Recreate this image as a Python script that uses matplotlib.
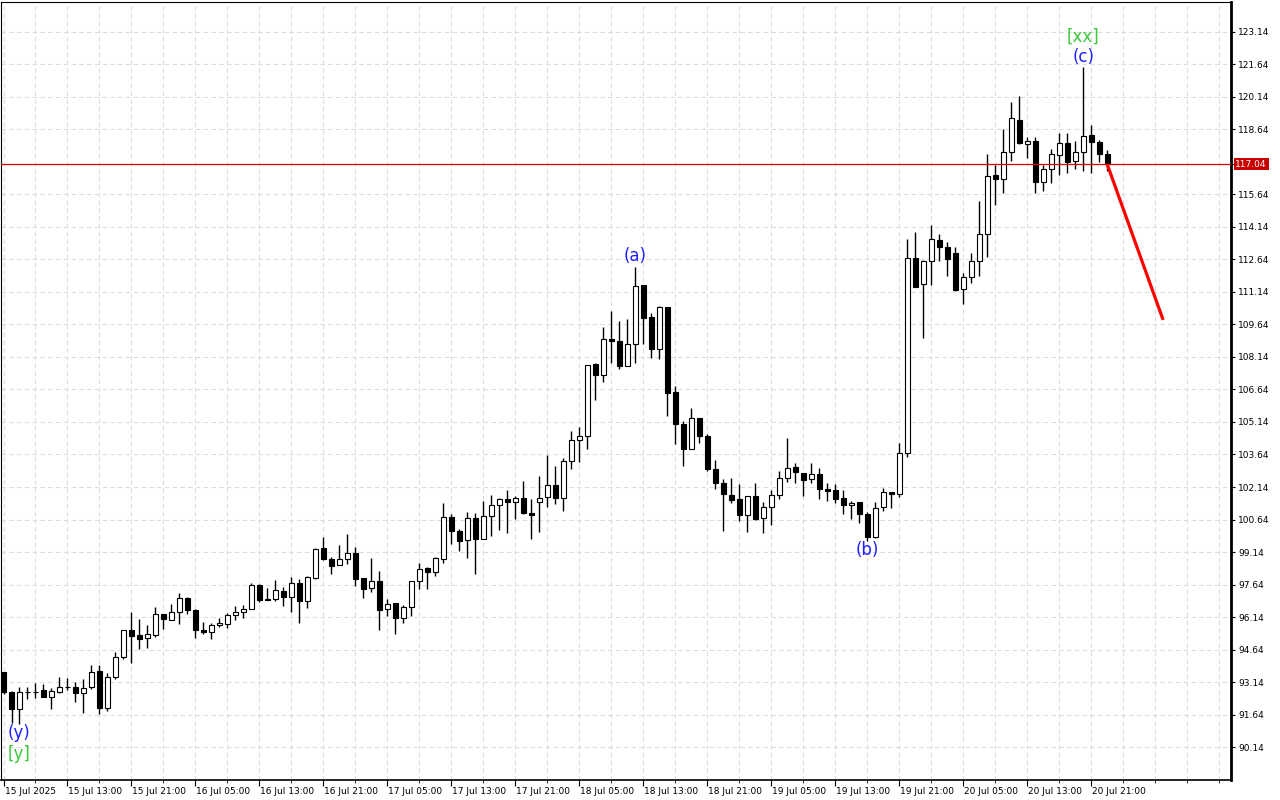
import numpy as np
import matplotlib
matplotlib.use('Agg')
import matplotlib.pyplot as plt
import matplotlib.transforms as mtransforms

# hourly bars, 15 Jul 2025 05:00 .. 20 Jul 2025 23:00
opens = [93.59, 92.67, 91.88, 92.67, 92.70, 92.77, 92.44, 92.67, 92.90, 92.90,
         92.62, 92.90, 93.65, 91.96, 93.36, 94.31, 95.54, 95.31, 95.16, 95.30,
         96.27, 95.99, 96.36, 97.01, 96.45, 95.53, 95.47, 95.76, 95.83, 96.22,
         96.38, 96.50, 97.61, 96.97, 96.96, 97.33, 97.05, 97.70, 96.87, 97.93,
         99.31, 98.82, 98.53, 98.80, 99.08, 97.93, 97.47, 97.79, 96.50, 96.78,
         96.08, 96.59, 97.79, 98.39, 98.20, 98.83, 100.74, 100.10, 99.68, 100.70,
         99.76, 100.79, 101.30, 101.58, 101.46, 101.62, 100.93, 101.44, 101.67, 102.22,
         101.62, 103.33, 104.30, 104.48, 107.82, 107.32, 108.97, 108.87, 107.74, 108.76,
         111.46, 109.97, 108.53, 110.43, 106.52, 105.05, 103.91, 105.31, 104.48, 102.96,
         102.31, 101.77, 101.58, 100.86, 101.71, 100.70, 101.21, 101.76, 102.54, 103.05,
         102.77, 102.50, 102.74, 102.04, 101.99, 101.62, 101.30, 101.44, 100.88, 99.85,
         101.21, 101.90, 101.81, 103.70, 112.70, 111.50, 112.56, 113.53, 113.20, 112.93,
         111.29, 111.82, 112.56, 113.80, 116.54, 116.34, 117.59, 119.07, 117.96, 118.10,
         116.20, 116.80, 117.45, 118.00, 117.17, 117.59, 118.37, 118.05, 117.50]
highs = [93.62, 92.73, 92.93, 92.93, 93.08, 93.05, 92.88, 93.39, 93.31, 93.13,
         93.28, 93.91, 93.91, 93.54, 94.53, 95.54, 96.36, 96.05, 95.77, 96.60,
         96.30, 96.73, 97.24, 97.05, 96.50, 95.89, 95.85, 96.08, 96.31, 96.64,
         96.68, 97.70, 97.65, 97.47, 97.85, 97.52, 98.00, 97.88, 98.03, 99.31,
         99.83, 98.90, 99.45, 99.96, 99.36, 97.95, 98.85, 98.25, 96.96, 96.80,
         96.70, 97.80, 98.62, 98.45, 98.90, 101.40, 100.90, 100.19, 100.97, 100.94,
         101.50, 101.77, 101.65, 102.00, 101.71, 102.42, 101.58, 102.65, 103.62, 103.11,
         103.47, 104.71, 104.90, 107.76, 107.85, 109.51, 110.26, 109.82, 109.89, 112.31,
         111.46, 110.16, 110.49, 110.45, 106.79, 105.19, 105.77, 105.34, 104.59, 103.37,
         102.51, 102.57, 102.28, 101.71, 102.34, 101.45, 102.00, 102.88, 104.39, 103.23,
         102.78, 103.26, 103.00, 102.34, 102.27, 101.99, 101.48, 101.45, 100.97, 101.45,
         102.08, 101.93, 104.16, 113.57, 113.90, 112.62, 114.23, 113.82, 113.46, 113.20,
         112.00, 112.93, 115.34, 117.51, 117.00, 118.65, 119.90, 120.19, 118.28, 118.28,
         116.99, 117.73, 118.47, 118.47, 118.09, 121.52, 118.83, 118.14, 117.68]
lows = [92.60, 91.26, 91.19, 92.34, 92.39, 92.44, 91.88, 92.62, 92.77, 92.23,
        91.72, 92.81, 91.65, 91.82, 93.28, 94.20, 94.03, 94.65, 94.73, 95.23,
        95.60, 95.99, 95.80, 96.27, 95.16, 95.37, 95.12, 95.70, 95.62, 96.02,
        96.08, 96.50, 96.82, 96.91, 96.87, 96.64, 96.36, 95.85, 96.54, 97.88,
        98.76, 98.14, 98.53, 98.57, 97.56, 97.03, 97.31, 95.54, 96.20, 95.34,
        95.88, 96.20, 97.45, 97.45, 98.02, 98.65, 99.50, 99.20, 98.88, 98.14,
        99.76, 99.89, 100.17, 100.01, 100.66, 100.88, 99.76, 100.05, 101.23, 101.37,
        101.05, 102.99, 103.31, 103.91, 106.17, 107.00, 107.88, 107.60, 107.74, 107.88,
        108.76, 108.11, 108.06, 105.43, 104.14, 103.12, 103.91, 104.19, 102.87, 102.04,
        100.13, 101.39, 100.59, 100.08, 100.60, 100.03, 100.40, 101.60, 102.39, 102.31,
        101.74, 102.31, 101.60, 101.51, 101.39, 100.91, 100.65, 100.49, 99.66, 99.77,
        101.05, 101.19, 101.67, 103.51, 111.36, 109.03, 111.46, 112.59, 111.89, 111.19,
        110.60, 111.57, 111.88, 112.77, 115.17, 115.72, 117.18, 117.96, 117.34, 115.72,
        115.79, 116.16, 116.53, 116.62, 116.83, 116.71, 116.62, 117.15, 116.71]
closes = [92.67, 91.88, 92.67, 92.69, 92.66, 92.44, 92.73, 92.90, 92.92, 92.62,
          92.85, 93.62, 91.96, 93.39, 94.28, 95.54, 95.28, 95.13, 95.36, 96.27,
          96.04, 96.36, 97.01, 96.45, 95.53, 95.47, 95.76, 95.85, 96.22, 96.36,
          96.50, 97.61, 96.91, 96.91, 97.38, 97.05, 97.70, 96.87, 97.99, 99.28,
          98.80, 98.51, 98.80, 99.08, 97.88, 97.45, 97.79, 96.48, 96.73, 96.11,
          96.59, 97.79, 98.34, 98.20, 98.85, 100.74, 100.10, 99.64, 100.70, 99.76,
          100.79, 101.30, 101.58, 101.44, 101.62, 100.96, 100.84, 101.62, 102.22, 101.62,
          103.33, 104.30, 104.48, 107.76, 107.32, 108.96, 108.87, 107.74, 108.73, 111.40,
          109.95, 108.53, 110.43, 106.49, 105.06, 103.91, 105.31, 104.48, 102.99, 102.31,
          101.80, 101.54, 100.86, 101.71, 100.66, 101.21, 101.76, 102.54, 103.00, 102.82,
          102.48, 102.74, 102.04, 101.97, 101.60, 101.30, 101.42, 100.88, 99.85, 101.16,
          101.90, 101.81, 103.70, 112.70, 111.36, 112.57, 113.57, 113.20, 112.68, 111.23,
          111.82, 112.56, 113.80, 116.51, 116.34, 117.59, 119.16, 118.00, 118.10, 116.20,
          116.80, 117.50, 118.00, 117.15, 117.59, 118.33, 118.05, 117.50, 117.04]

x_labels = ['15 Jul 2025', '15 Jul 13:00', '15 Jul 21:00', '16 Jul 05:00', '16 Jul 13:00',
            '16 Jul 21:00', '17 Jul 05:00', '17 Jul 13:00', '17 Jul 21:00', '18 Jul 05:00',
            '18 Jul 13:00', '18 Jul 21:00', '19 Jul 05:00', '19 Jul 13:00', '19 Jul 21:00',
            '20 Jul 05:00', '20 Jul 13:00', '20 Jul 21:00']
y_ticks = [90.14, 91.64, 93.14, 94.64, 96.14, 97.64, 99.14, 100.64, 102.14, 103.64,
           105.14, 106.64, 108.14, 109.64, 111.14, 112.64, 114.14, 115.64, 117.04,
           118.64, 120.14, 121.64, 123.14]
current_price = 117.04

# wave labels: (text, bar, colour, above/below, offset in points)
waves = [('(y)', 2, '#1f1fff', 'below', 0),
         ('[y]', 2, '#3cc83c', 'below', -15),
         ('(a)', 79, '#1f1fff', 'above', 1),
         ('(b)', 108, '#1f1fff', 'below', 0),
         ('(c)', 135, '#1f1fff', 'above', 1),
         ('[xx]', 135, '#3cc83c', 'above', 15)]

# forecast arrow
forecast_x = [138, 145]
forecast_y = [117.04, 109.85]

opens = np.array(opens)
closes = np.array(closes)
highs = np.array(highs)
lows = np.array(lows)
idx = np.arange(len(opens))
up = closes >= opens

fig = plt.figure(figsize=(12.8, 8), dpi=100)
ax = fig.add_axes([0.0008, 0.025, 0.961, 0.9725])

# wicks + bodies
ax.vlines(idx, lows, highs, color='black', lw=1.0, zorder=2)
body_bottom = np.minimum(opens, closes)
body_h = np.abs(closes - opens)
body_h = np.where(body_h < 0.03, 0.03, body_h)
ax.bar(idx[up], body_h[up], bottom=body_bottom[up], width=0.62,
       facecolor='white', edgecolor='black', lw=0.8, zorder=3)
ax.bar(idx[~up], body_h[~up], bottom=body_bottom[~up], width=0.62,
       facecolor='black', edgecolor='black', lw=0.8, zorder=3)

# current price line
ax.axhline(current_price, color='#e00000', lw=0.9, zorder=4)

# forecast
ax.plot(forecast_x, forecast_y, color='#ff0000', lw=2.3, zorder=5, solid_capstyle='butt')

for txt, b, col, pos, off in waves:
    if pos == 'above':
        ax.annotate(txt, xy=(b, highs[b]), xytext=(0, off), textcoords='offset points',
                    ha='center', va='bottom', color=col, fontsize=12)
    else:
        ax.annotate(txt, xy=(b, lows[b]), xytext=(0, off), textcoords='offset points',
                    ha='center', va='top', color=col, fontsize=12)

ax.set_xlim(-0.31, 153.5)
ax.set_ylim(88.62, 124.52)

ax.set_xticks(np.arange(0, 8 * len(x_labels), 8))
ax.set_xticklabels(x_labels, fontsize=6.5, ha='left')
ax.set_xticks(np.arange(0, 154, 4), minor=True)
ax.tick_params(axis='x', which='major', direction='out', length=4, width=0.8, pad=1)
ax.tick_params(axis='x', which='minor', direction='out', length=2, width=0.6)
for lab in ax.get_xticklabels():
    lab.set_transform(lab.get_transform() + mtransforms.ScaledTranslation(1 / 100, 0, fig.dpi_scale_trans))

grid_ticks = [t for t in y_ticks if t != current_price]
ax.yaxis.tick_right()
ax.set_yticks(y_ticks)
ax.set_yticklabels(['%.2f' % t if t != current_price else '' for t in y_ticks], fontsize=6.5)
ax.tick_params(axis='y', direction='out', length=3, width=0.8, pad=2)

for t in grid_ticks:
    ax.axhline(t, color='#dcdcdc', lw=0.8, ls=(0, (4, 3)), zorder=0)
for b in np.arange(0, 154, 4):
    ax.axvline(b, color='#dcdcdc', lw=0.8, ls=(0, (4, 3)), zorder=0)

# price tag on the axis
trans = mtransforms.blended_transform_factory(ax.transAxes, ax.transData)
ax.text(1.0035, current_price, '117.04', transform=trans, color='white', fontsize=6.5,
        ha='left', va='center', bbox=dict(facecolor='#c80000', edgecolor='none', pad=1.2),
        zorder=6, clip_on=False)

for s in ['left', 'top']:
    ax.spines[s].set_linewidth(0.8)
ax.spines['right'].set_linewidth(2.0)
ax.spines['bottom'].set_linewidth(1.2)

plt.savefig('out.png', dpi=100)
